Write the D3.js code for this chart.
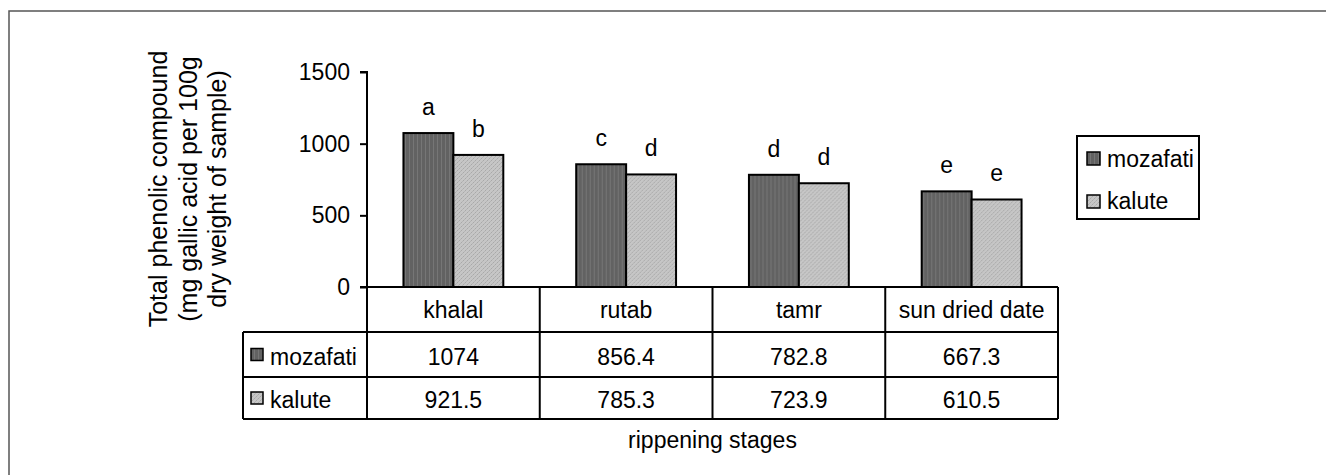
<!DOCTYPE html>
<html>
<head>
<meta charset="utf-8">
<script src="https://cdn.jsdelivr.net/npm/d3@7"></script>
<style>
  html, body { margin: 0; padding: 0; background: #fff; }
  svg { display: block; }
  text { font-family: "Liberation Sans", Arial, sans-serif; fill: #000; }
</style>
</head>
<body>
<svg id="chart" width="1326" height="475"></svg>
<script>
// Total phenolic compound by ripening stage
const stages = ["khalal", "rutab", "tamr", "sun dried date"];
const cultivars = ["mozafati", "kalute"];
const mozafati = [1074, 856.4, 782.8, 667.3];
const kalute = [921.5, 785.3, 723.9, 610.5];
const mozafatiLetters = ["a", "c", "d", "e"];
const kaluteLetters = ["b", "d", "d", "e"];
const yTicks = [0, 500, 1000, 1500];
const yLabelLines = ["Total phenolic compound", "(mg gallic acid per 100g", "dry weight of sample)"];
const xTitle = "rippening stages";

const seriesValues = { mozafati, kalute };
const seriesLetters = { mozafati: mozafatiLetters, kalute: kaluteLetters };

const svg = d3.select("#chart");
const fontSize = 23;

// patterned fills
const defs = svg.append("defs");
const pDark = defs.append("pattern").attr("id", "fill-mozafati")
  .attr("patternUnits", "userSpaceOnUse").attr("width", 4).attr("height", 4);
pDark.append("rect").attr("width", 4).attr("height", 4).attr("fill", "#626262");
pDark.append("rect").attr("x", 2).attr("width", 1).attr("height", 4).attr("fill", "#767676");
const pLight = defs.append("pattern").attr("id", "fill-kalute")
  .attr("patternUnits", "userSpaceOnUse").attr("width", 4).attr("height", 4);
pLight.append("rect").attr("width", 4).attr("height", 4).attr("fill", "#c6c6c6");
pLight.append("rect").attr("x", 0).attr("y", 0).attr("width", 1).attr("height", 1).attr("fill", "#a9a9a9");
pLight.append("rect").attr("x", 2).attr("y", 2).attr("width", 1).attr("height", 1).attr("fill", "#a9a9a9");
pLight.append("rect").attr("x", 1).attr("y", 3).attr("width", 1).attr("height", 1).attr("fill", "#b5b5b5");
pLight.append("rect").attr("x", 3).attr("y", 1).attr("width", 1).attr("height", 1).attr("fill", "#b5b5b5");
const fillOf = s => `url(#fill-${s})`;

// outer frame
svg.append("path")
  .attr("d", "M9,480 L9,11 L1330,11")
  .attr("fill", "none").attr("stroke", "#555").attr("stroke-width", 1.5);

// plot geometry
const plotLeft = 367, plotRight = 1058;
const plotTop = 72, plotBottom = 287;

const x = d3.scaleBand().domain(stages).range([plotLeft, plotRight]).paddingInner(0).paddingOuter(0);
const xs = d3.scaleBand().domain(cultivars).range([0, x.bandwidth()]).paddingInner(0).paddingOuter(0.73);
const y = d3.scaleLinear().domain([0, 1500]).range([plotBottom, plotTop]);

// y axis
const yAxis = svg.append("g")
  .attr("transform", `translate(${plotLeft},0)`)
  .call(d3.axisLeft(y).tickValues(yTicks).tickSize(7).tickPadding(10).tickFormat(d3.format("d")));
yAxis.select(".domain").attr("stroke", "#000").attr("stroke-width", 2).attr("d", `M-7,${plotTop}H0V${plotBottom}`);
yAxis.selectAll(".tick line").attr("stroke", "#000").attr("stroke-width", 2);
yAxis.selectAll(".tick text")
  .style("font-family", '"Liberation Sans", Arial, sans-serif')
  .style("font-size", fontSize + "px").attr("fill", "#000");

// y axis title
const yTitle = svg.append("text")
  .attr("transform", "translate(0,189) rotate(-90)")
  .attr("text-anchor", "middle")
  .style("font-size", "25px");
yLabelLines.forEach((line, i) => {
  yTitle.append("tspan").attr("x", 0).attr("y", 167 + i * 29.5).text(line);
});

// bars
const groups = svg.append("g").selectAll("g").data(stages).join("g")
  .attr("transform", d => `translate(${x(d)},0)`);
cultivars.forEach(s => {
  groups.append("rect")
    .attr("x", xs(s))
    .attr("width", xs.bandwidth())
    .attr("y", (d, i) => y(seriesValues[s][i]))
    .attr("height", (d, i) => plotBottom - y(seriesValues[s][i]))
    .attr("fill", fillOf(s))
    .attr("stroke", "#000").attr("stroke-width", 2);
  groups.append("text")
    .attr("x", xs(s) + xs.bandwidth() / 2)
    .attr("y", (d, i) => y(seriesValues[s][i]) - 18)
    .attr("text-anchor", "middle")
    .style("font-size", fontSize + "px")
    .text((d, i) => seriesLetters[s][i]);
});

// data table
const rowTop = [plotBottom, 332, 377];
const rowBottom = 419;
const tableLeft = 243;
const table = svg.append("g").attr("stroke", "#000").attr("stroke-width", 2).attr("fill", "none");
// horizontal lines
table.append("line").attr("x1", plotLeft - 7).attr("x2", plotRight).attr("y1", plotBottom).attr("y2", plotBottom);
[332, 377, rowBottom].forEach(yy => {
  table.append("line").attr("x1", tableLeft).attr("x2", plotRight).attr("y1", yy).attr("y2", yy);
});
// vertical lines
table.append("line").attr("x1", tableLeft).attr("x2", tableLeft).attr("y1", 332).attr("y2", rowBottom);
stages.forEach(s => {
  table.append("line").attr("x1", x(s)).attr("x2", x(s)).attr("y1", plotBottom).attr("y2", rowBottom);
});
table.append("line").attr("x1", plotRight).attr("x2", plotRight).attr("y1", plotBottom).attr("y2", rowBottom);

// header row: stage names
svg.append("g").selectAll("text").data(stages).join("text")
  .attr("x", d => x(d) + x.bandwidth() / 2)
  .attr("y", 318)
  .attr("text-anchor", "middle")
  .style("font-size", fontSize + "px")
  .text(d => d);

// value rows
const rowBaselines = [365, 408];
cultivars.forEach((s, r) => {
  const rowMid = (rowTop[r + 1] + (r === 0 ? 377 : rowBottom)) / 2;
  svg.append("rect")
    .attr("x", 251).attr("y", rowMid - 6).attr("width", 12).attr("height", 12)
    .attr("fill", fillOf(s)).attr("stroke", "#000").attr("stroke-width", 1.5);
  svg.append("text")
    .attr("x", 270).attr("y", rowBaselines[r])
    .style("font-size", fontSize + "px")
    .text(s);
  svg.append("g").selectAll("text").data(stages).join("text")
    .attr("x", d => x(d) + x.bandwidth() / 2)
    .attr("y", rowBaselines[r])
    .attr("text-anchor", "middle")
    .style("font-size", fontSize + "px")
    .text((d, i) => String(seriesValues[s][i]));
});

// x axis title
svg.append("text")
  .attr("x", (plotLeft + plotRight) / 2).attr("y", 448)
  .attr("text-anchor", "middle")
  .style("font-size", fontSize + "px")
  .text(xTitle);

// legend
const legend = svg.append("g");
legend.append("rect")
  .attr("x", 1077).attr("y", 136).attr("width", 122).attr("height", 83)
  .attr("fill", "#fff").attr("stroke", "#000").attr("stroke-width", 2);
cultivars.forEach((s, i) => {
  legend.append("rect")
    .attr("x", 1087).attr("y", 152 + i * 43).attr("width", 13).attr("height", 13)
    .attr("fill", fillOf(s)).attr("stroke", "#000").attr("stroke-width", 1.5);
  legend.append("text")
    .attr("x", 1107).attr("y", 167 + i * 42)
    .style("font-size", fontSize + "px")
    .text(s);
});
</script>
</body>
</html>
